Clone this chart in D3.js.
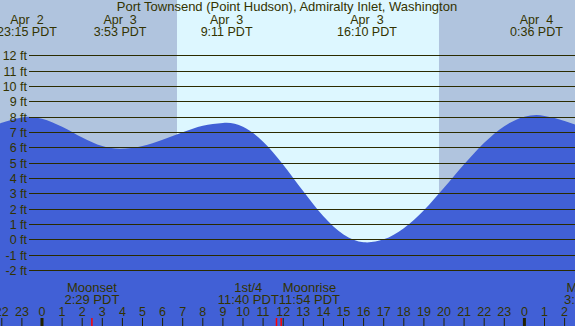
<!DOCTYPE html>
<html>
<head>
<meta charset="utf-8">
<script src="https://cdn.jsdelivr.net/npm/d3@7"></script>
<style>
  body { margin: 0; padding: 0; background: #fff; }
  svg { display: block; }
  text { font-family: "Liberation Sans", Arial, sans-serif; fill: #333300; white-space: pre; }
</style>
</head>
<body>
<svg id="chart" width="575" height="326"></svg>
<script>
// hours after Apr 3 00:00 PDT, tide height in ft
const tideHours = [-3, -2, -1, -0.75, 0, 1, 2, 3, 3.88, 5, 6, 7, 8, 9, 9.18, 10, 11, 12, 13, 14, 15, 16, 16.17, 17, 18, 19, 20, 21, 22, 23, 24, 24.6, 25, 26, 27];
const tideFeet  = [7.05, 7.6, 7.95, 8.0, 7.87, 7.34, 6.64, 6.08, 5.9, 6.08, 6.49, 6.98, 7.4, 7.59, 7.6, 7.34, 6.37, 4.87, 3.13, 1.51, 0.32, -0.19, -0.2, 0.0, 0.73, 1.9, 3.36, 4.89, 6.3, 7.38, 8.0, 8.1, 8.05, 7.72, 7.25];

const extremeDates = ["Apr  2", "Apr  3", "Apr  3", "Apr  3", "Apr  4"];
const extremeDay   = [-1, 0, 0, 0, 1];
const extremeTimes = ["23:15", "3:53", "9:11", "16:10", "0:36"];

const moonNames = ["Moonset", "1st/4", "Moonrise", "Moonset"];
const moonDay   = [0, 0, 0, 1];
const moonTimes = ["2:29", "11:40", "11:54", "3:20"];

const sunrise = "6:43";
const sunset = "19:45";

const feetTicks = d3.range(-2, 13);
const title = "Port Townsend (Point Hudson), Admiralty Inlet, Washington";

const width = 575, height = 326;

function toHours(day, t) {
    const p = t.split(":");
    return day * 24 + (+p[0]) + (+p[1]) / 60;
}

const x = d3.scaleLinear().domain([0, 24]).range([42, 524.4]);
const y = d3.scaleLinear().domain([-2, 12]).range([270, 55.3]);

const svg = d3.select("#chart");

// night / day background
svg.append("rect").attr("x", 0).attr("y", 0).attr("width", width).attr("height", height)
    .attr("fill", "#b0c4de");
svg.append("rect")
    .attr("x", x(toHours(0, sunrise)))
    .attr("y", 0)
    .attr("width", x(toHours(0, sunset)) - x(toHours(0, sunrise)))
    .attr("height", height)
    .attr("fill", "#ddf7ff");

// water
const tide = tideHours.map((h, i) => [h, tideFeet[i]]);
const area = d3.area()
    .x(d => x(d[0]))
    .y0(height)
    .y1(d => y(d[1]))
    .curve(d3.curveMonotoneX);
svg.append("path").datum(tide).attr("d", area).attr("fill", "#4160d6");

// grid lines + ft labels
const grid = svg.append("g");
grid.selectAll("line").data(feetTicks).join("line")
    .attr("x1", 29).attr("x2", width)
    .attr("y1", d => Math.round(y(d)) + 0.5)
    .attr("y2", d => Math.round(y(d)) + 0.5)
    .attr("stroke", "#2b2b00").attr("stroke-width", 1);
grid.selectAll("text").data(feetTicks).join("text")
    .attr("x", 27).attr("y", d => Math.round(y(d)) + 4.5)
    .attr("text-anchor", "end").attr("font-size", 12.5)
    .text(d => d + " ft");

// title
svg.append("text").attr("x", 287).attr("y", 11).attr("text-anchor", "middle")
    .attr("font-size", 13).text(title);

// high / low labels
const ext = svg.append("g").attr("font-size", 12.5).attr("text-anchor", "middle");
extremeTimes.forEach((t, i) => {
    const cx = x(toHours(extremeDay[i], t));
    ext.append("text").attr("x", cx).attr("y", 23.5).text(extremeDates[i]);
    ext.append("text").attr("x", cx).attr("y", 35.5).text(t + " PDT");
});

// hour ticks along the bottom
const hourTicks = d3.range(-3, 28);
const axis = svg.append("g");
axis.selectAll("line").data(hourTicks).join("line")
    .attr("x1", d => x(d)).attr("x2", d => x(d))
    .attr("y1", 318).attr("y2", height)
    .attr("stroke", "#222200")
    .attr("stroke-width", d => ((d % 24) + 24) % 24 === 0 ? 3 : 1);
axis.selectAll("text").data(hourTicks).join("text")
    .attr("x", d => x(d)).attr("y", 316)
    .attr("text-anchor", "middle").attr("font-size", 12.5)
    .text(d => ((d % 24) + 24) % 24);

// moon events
const moonX = moonTimes.map((t, i) => x(toHours(moonDay[i], t)));
const moon = svg.append("g").attr("font-size", 13);
moonX.forEach((mx, i) => {
    svg.append("line").attr("x1", mx).attr("x2", mx).attr("y1", 318).attr("y2", height)
        .attr("stroke", "#ff0000").attr("stroke-width", 1.5);
});
const blocks = moonNames.map((name, i) => {
    const g = moon.append("g");
    g.append("text").attr("class", "n").attr("y", 291.5).attr("text-anchor", "middle").text(name);
    g.append("text").attr("class", "t").attr("y", 304).attr("text-anchor", "middle").text(moonTimes[i] + " PDT");
    const w = Math.max(g.select(".n").node().getComputedTextLength(), g.select(".t").node().getComputedTextLength());
    return { g, w, cx: moonX[i] };
});
// push overlapping neighbours apart around their midpoint
for (let i = 0; i < blocks.length - 1; i++) {
    const a = blocks[i], b = blocks[i + 1];
    if (a.cx + a.w / 2 > b.cx - b.w / 2) {
        const mid = (a.cx + b.cx) / 2;
        a.cx = mid - a.w / 2;
        b.cx = mid + b.w / 2;
    }
}
blocks.forEach(b => b.g.selectAll("text").attr("x", b.cx));
</script>
</body>
</html>
